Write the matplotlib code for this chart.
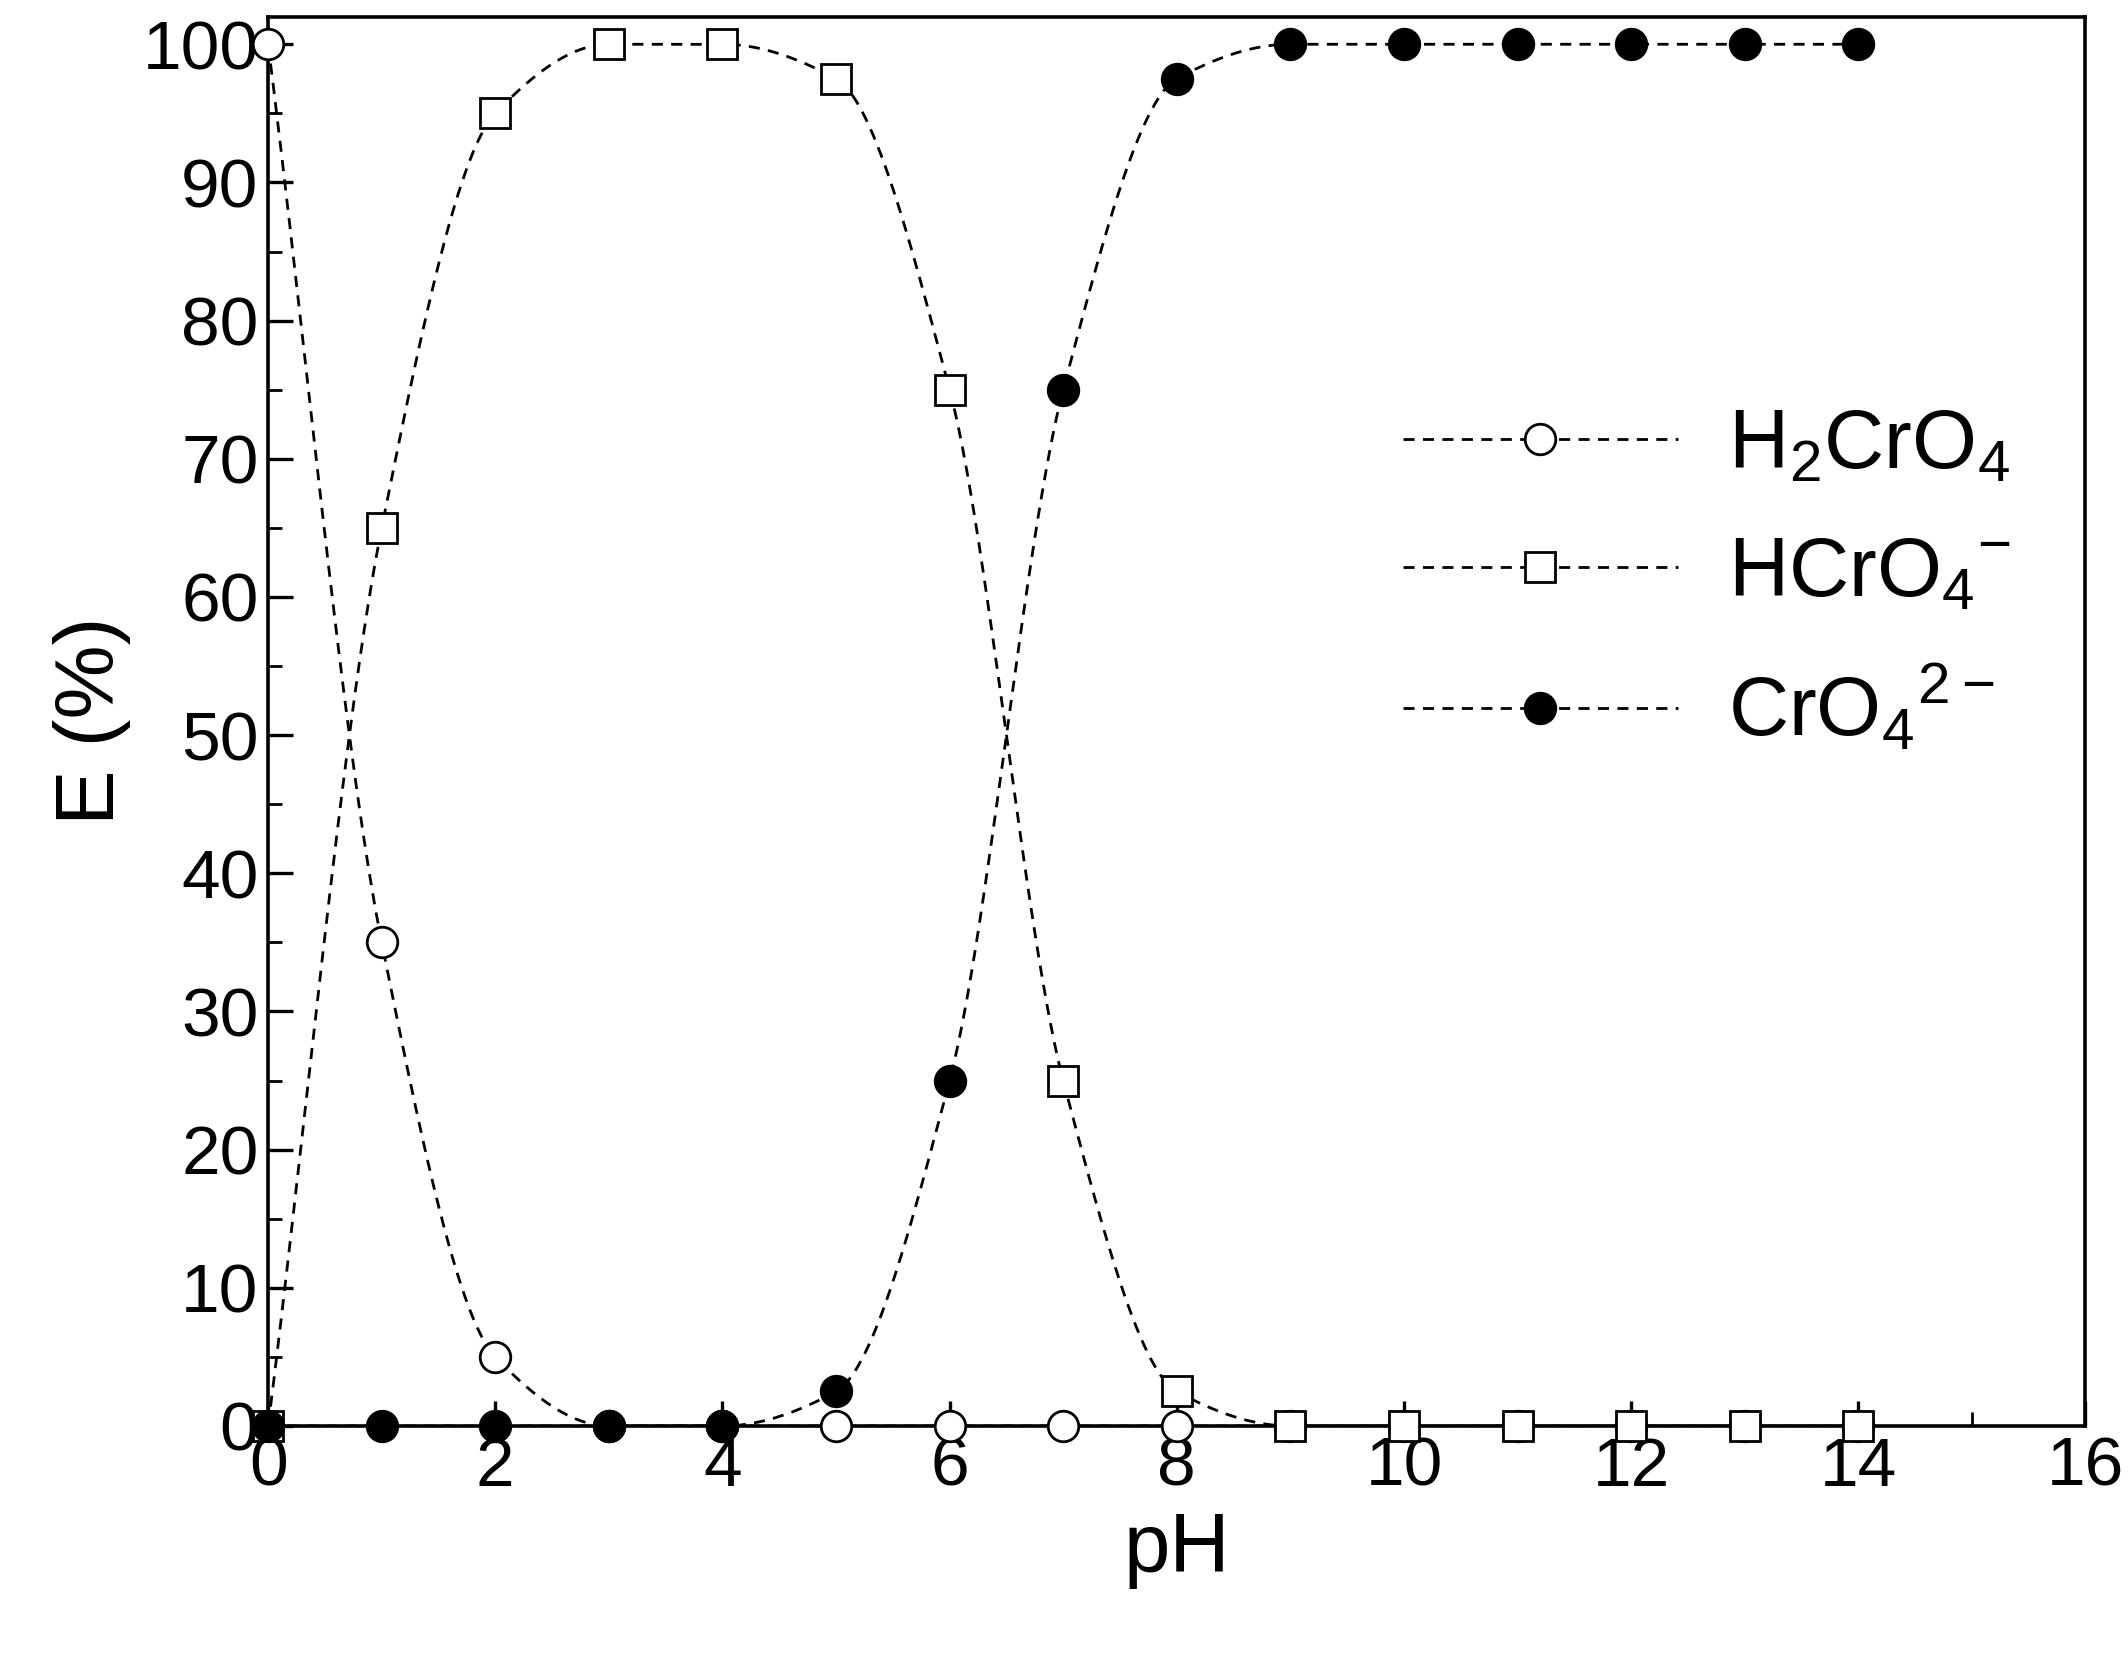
import numpy as np
import matplotlib
matplotlib.use("Agg")
import matplotlib.pyplot as plt
from matplotlib.ticker import MultipleLocator

plt.rcParams['font.family'] = ['Liberation Sans', 'DejaVu Sans']
plt.rcParams['mathtext.fontset'] = 'custom'
plt.rcParams['mathtext.rm'] = 'Liberation Sans'

ph = [0, 1, 2, 3, 4, 5, 6, 7, 8, 9, 10, 11, 12, 13, 14]
h2cro4 = [100, 35, 5, 0, 0, 0, 0, 0, 0, 0, 0, 0, 0, 0, 0]
hcro4 = [0, 65, 95, 100, 100, 97.5, 75, 25, 2.5, 0, 0, 0, 0, 0, 0]
cro4 = [0, 0, 0, 0, 0, 2.5, 25, 75, 97.5, 100, 100, 100, 100, 100, 100]

def pchip(x, y, xs):
    x = np.asarray(x, float); y = np.asarray(y, float)
    h = np.diff(x); d = np.diff(y) / h
    m = np.zeros_like(y)
    for k in range(1, len(x) - 1):
        if d[k-1] * d[k] > 0:
            w1 = 2*h[k] + h[k-1]; w2 = h[k] + 2*h[k-1]
            m[k] = (w1 + w2) / (w1/d[k-1] + w2/d[k])
    m[0] = d[0]
    idx = np.clip(np.searchsorted(x, xs) - 1, 0, len(x) - 2)
    t = (xs - x[idx]) / h[idx]
    h00 = 2*t**3 - 3*t**2 + 1; h10 = t**3 - 2*t**2 + t
    h01 = -2*t**3 + 3*t**2; h11 = t**3 - t**2
    return h00*y[idx] + h10*h[idx]*m[idx] + h01*y[idx+1] + h11*h[idx]*m[idx+1]

fig = plt.figure(figsize=(10.64, 8.31), dpi=200)
ax = fig.add_axes([0.126, 0.142, 0.854, 0.848])
xs = np.linspace(0, 14, 800)
dash = (0, (4, 3))
series = [(h2cro4, 'o', 'white', r'H$_2$CrO$_4$'),
          (hcro4, 's', 'white', r'HCrO$_4$$^{\mathrm{-}}$'),
          (cro4, 'o', 'black', r'CrO$_4$$^{\mathrm{2-}}$')]
for i, (ys, mk, fc, lab) in enumerate(series):
    ax.plot(xs, pchip(ph, ys, xs), ls=dash, color='black', lw=1.0, zorder=2)
    ax.plot(ph, ys, ls='none', marker=mk, mfc=fc, mec='black', ms=11, mew=1.0,
            zorder=3 + i, clip_on=False)
    ax.plot([], [], ls=dash, color='black', lw=1.0, marker=mk, mfc=fc,
            mec='black', ms=11, label=lab)

ax.set_xlim(0, 16)
ax.set_ylim(0, 102)
ax.xaxis.set_major_locator(MultipleLocator(2))
ax.xaxis.set_minor_locator(MultipleLocator(1))
ax.yaxis.set_major_locator(MultipleLocator(10))
ax.yaxis.set_minor_locator(MultipleLocator(5))
ax.tick_params(which='both', direction='in', labelsize=25)
ax.tick_params(which='major', length=9, width=1.2)
ax.tick_params(which='minor', length=5, width=1.0)
for s in ax.spines.values():
    s.set_linewidth(1.3)
ax.set_xlabel('pH', fontsize=30)
ax.set_ylabel('E (%)', fontsize=30)
ax.legend(loc='center right', bbox_to_anchor=(1.0, 0.6), frameon=False,
          fontsize=30, handlelength=3.3, labelspacing=0.6, handletextpad=0.6)
fig.savefig('out.png', dpi=200)
